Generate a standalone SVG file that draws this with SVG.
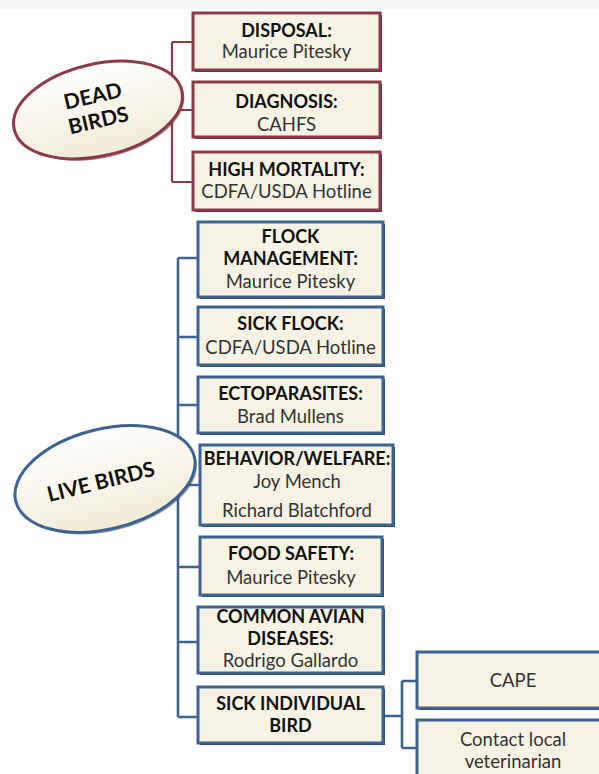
<svg xmlns="http://www.w3.org/2000/svg" width="599" height="774" viewBox="0 0 599 774">
<style>
.t{font-family:Lato,"Liberation Sans",sans-serif;font-size:18.5px;fill:#333;text-anchor:middle}
.b{font-weight:bold;fill:#111;font-size:18px}
.el{font-family:Lato,"Liberation Sans",sans-serif;font-size:21px;font-weight:bold;fill:#111;text-anchor:middle}
.rbox{fill:#f6f3e4;stroke:#8c3a47;stroke-width:3}
.rsh{fill:#5e2730}
.bbox{fill:#f6f3e4;stroke:#3e6391;stroke-width:3}
.bsh{fill:#27405f}
.rc{fill:none;stroke:#8c3a47;stroke-width:2.2}
.bc{fill:none;stroke:#3e6391;stroke-width:2.6}
</style>
<defs>
<linearGradient id="eg" x1="0" y1="0" x2="0" y2="1">
<stop offset="0" stop-color="#ffffff"/>
<stop offset="1" stop-color="#f1ebd6"/>
</linearGradient>
</defs>
<rect width="599" height="774" fill="#ffffff"/>
<rect width="599" height="9" fill="#f6f6f6"/>
<g id="connectors">
<path class="rc" d="M172 42V182M172 42H193M172 110H193M172 182H193"/>
<path class="bc" d="M178 258V717M178 258H198M178 337H198M178 405H198M178 485H200M178 567H200M178 642H198M178 717H198"/>
<path class="bc" d="M383 716H402M402 681V748M402 681H417M402 748H417"/>
</g>
<g id="dead-birds">
<ellipse cx="100" cy="112" rx="86" ry="46" transform="rotate(-13 100 112)" fill="#5e2730" opacity="0.5"/>
<ellipse cx="98" cy="110" rx="86" ry="46" transform="rotate(-13 98 110)" fill="url(#eg)" stroke="#8c3a47" stroke-width="3"/>
<g transform="rotate(-13 96 110)">
<text class="el" x="96" y="103">DEAD</text>
<text class="el" x="96" y="128">BIRDS</text>
</g>
</g>
<g id="disposal">
<rect class="rsh" x="195" y="15" width="187" height="57"/>
<rect class="rbox" x="193" y="13" width="187" height="57"/>
<text class="t b" x="286.5" y="37">DISPOSAL:</text>
<text class="t" x="286.5" y="58">Maurice Pitesky</text>
</g>
<g id="diagnosis">
<rect class="rsh" x="195" y="84" width="187" height="55"/>
<rect class="rbox" x="193" y="82" width="187" height="55"/>
<text class="t b" x="286.5" y="108">DIAGNOSIS:</text>
<text class="t" x="286.5" y="131">CAHFS</text>
</g>
<g id="high-mortality">
<rect class="rsh" x="195" y="154" width="187" height="58"/>
<rect class="rbox" x="193" y="152" width="187" height="58"/>
<text class="t b" x="286.5" y="176">HIGH MORTALITY:</text>
<text class="t" x="286.5" y="198">CDFA/USDA Hotline</text>
</g>
<g id="live-birds">
<ellipse cx="107" cy="481" rx="92" ry="50" transform="rotate(-14 107 481)" fill="#27405f" opacity="0.5"/>
<ellipse cx="105" cy="479" rx="92" ry="50" transform="rotate(-14 105 479)" fill="url(#eg)" stroke="#3e6391" stroke-width="3"/>
<text class="el" x="101" y="489" transform="rotate(-14 101 482)">LIVE BIRDS</text>
</g>
<g id="flock-management">
<rect class="bsh" x="200" y="224" width="185" height="75"/>
<rect class="bbox" x="198" y="222" width="185" height="75"/>
<text class="t b" x="290.5" y="243">FLOCK</text>
<text class="t b" x="290.5" y="265">MANAGEMENT:</text>
<text class="t" x="290.5" y="288">Maurice Pitesky</text>
</g>
<g id="sick-flock">
<rect class="bsh" x="200" y="309" width="185" height="58"/>
<rect class="bbox" x="198" y="307" width="185" height="58"/>
<text class="t b" x="290.5" y="330">SICK FLOCK:</text>
<text class="t" x="290.5" y="354">CDFA/USDA Hotline</text>
</g>
<g id="ectoparasites">
<rect class="bsh" x="200" y="379" width="185" height="56"/>
<rect class="bbox" x="198" y="377" width="185" height="56"/>
<text class="t b" x="290.5" y="400">ECTOPARASITES:</text>
<text class="t" x="290.5" y="423">Brad Mullens</text>
</g>
<g id="behavior-welfare">
<rect class="bsh" x="202" y="447" width="193" height="80"/>
<rect class="bbox" x="200" y="445" width="193" height="80"/>
<text class="t b" x="297" y="465">BEHAVIOR/WELFARE:</text>
<text class="t" x="297" y="488">Joy Mench</text>
<text class="t" x="297" y="517">Richard Blatchford</text>
</g>
<g id="food-safety">
<rect class="bsh" x="202" y="539" width="182" height="58"/>
<rect class="bbox" x="200" y="537" width="182" height="58"/>
<text class="t b" x="291" y="560">FOOD SAFETY:</text>
<text class="t" x="291" y="584">Maurice Pitesky</text>
</g>
<g id="common-avian-diseases">
<rect class="bsh" x="200" y="609" width="185" height="66"/>
<rect class="bbox" x="198" y="607" width="185" height="66"/>
<text class="t b" x="290.5" y="623">COMMON AVIAN</text>
<text class="t b" x="290.5" y="645">DISEASES:</text>
<text class="t" x="290.5" y="667">Rodrigo Gallardo</text>
</g>
<g id="sick-individual-bird">
<rect class="bsh" x="200" y="689" width="185" height="56"/>
<rect class="bbox" x="198" y="687" width="185" height="56"/>
<text class="t b" x="290.5" y="710">SICK INDIVIDUAL</text>
<text class="t b" x="290.5" y="732">BIRD</text>
</g>
<g id="cape">
<rect class="bsh" x="419" y="654" width="190" height="56"/>
<rect class="bbox" x="417" y="652" width="190" height="56"/>
<text class="t" x="513" y="687">CAPE</text>
</g>
<g id="contact-local-veterinarian">
<rect class="bsh" x="419" y="722" width="190" height="60"/>
<rect class="bbox" x="417" y="720" width="190" height="60"/>
<text class="t" x="513" y="746">Contact local</text>
<text class="t" x="513" y="768">veterinarian</text>
</g>
</svg>
